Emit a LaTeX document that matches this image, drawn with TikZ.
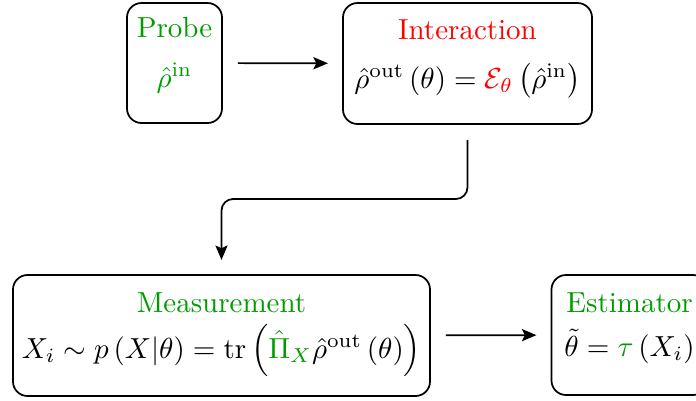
\documentclass[tikz,border=0pt]{standalone}
\usepackage{amsmath}
\usetikzlibrary{arrows.meta}
\definecolor{tgreen}{RGB}{0,155,0}
\begin{document}
\begin{tikzpicture}[x=0.3448pt,y=-0.3448pt,
  box/.style={draw, line width=0.6pt, rounded corners=5pt, inner sep=0pt, outer sep=0pt},
  lbl/.style={anchor=base, inner sep=0pt},
  arr/.style={line width=0.6pt, -{Stealth[length=5pt,width=4.2pt,inset=1pt]}, shorten <=5.5pt, shorten >=5.2pt}]
\useasboundingbox (0,0) rectangle (696,400);
% boxes
\node[box, minimum width=32.76pt, minimum height=41.38pt] (probe) at (174.5,63) {};
\node[box, minimum width=85.86pt, minimum height=41.72pt] (inter) at (467.5,63.5) {};
\node[box, minimum width=143.79pt, minimum height=41.72pt] (meas) at (221.5,335.5) {};
\node[box, minimum width=53.79pt, minimum height=41.38pt] (est) at (629.5,335) {};
% texts
\node[lbl, text=tgreen] (probeT) at (174.5,37) {Probe};
\node[lbl, text=tgreen] (probeF) at (174.5,87) {$\hat{\rho}^{\mathrm{in}}$};
\node[lbl, text=red] (interT) at (467.5,39) {Interaction};
\node[lbl] (interF) at (467.5,88) {$\hat{\rho}^{\mathrm{out}}\left(\theta\right)=\textcolor{red}{\mathcal{E}_{\theta}}\left(\hat{\rho}^{\mathrm{in}}\right)$};
\node[lbl, text=tgreen] (measT) at (221.5,312) {Measurement};
\node[lbl] (measF) at (221.5,358) {$X_i\sim p\left(X|\theta\right)=\mathrm{tr}\left(\textcolor{tgreen}{\hat{\Pi}_X}\hat{\rho}^{\mathrm{out}}\left(\theta\right)\right)$};
\node[lbl, text=tgreen] (estT) at (629.5,312) {Estimator};
\node[lbl] (estF) at (629.5,356) {$\tilde{\theta}=\textcolor{tgreen}{\tau}\left(X_i\right)$};
% connectors
\coordinate (mid) at (0,199);
\draw[arr] (probe) -- (inter);
\draw[arr] (meas) -- (est);
\draw[arr, rounded corners=4pt] (inter.south) -- (inter.south |- mid) -- (meas.north |- mid) -- (meas.north);
\end{tikzpicture}
\end{document}
